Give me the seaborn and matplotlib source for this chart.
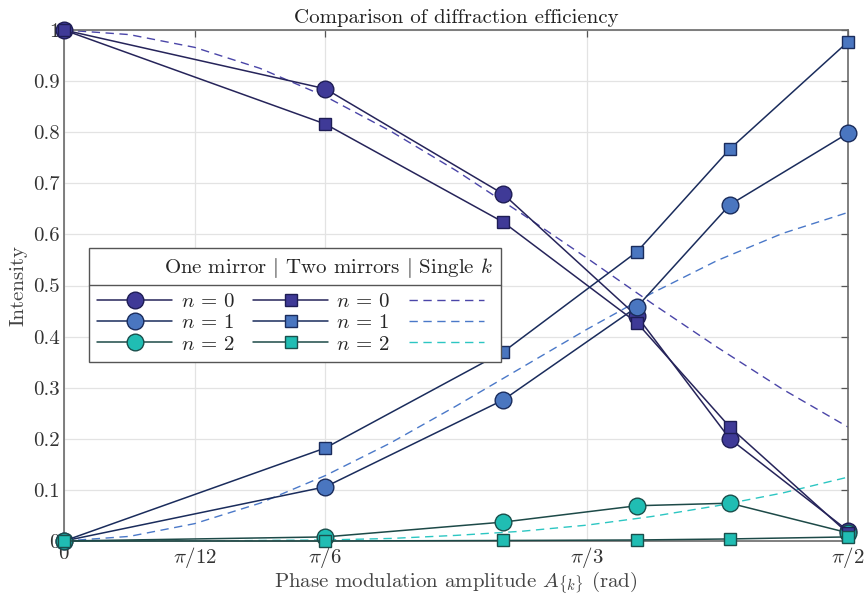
import numpy as np
import pandas as pd
import matplotlib
matplotlib.use("Agg")
import matplotlib.pyplot as plt
import seaborn as sns
from matplotlib.lines import Line2D

# ---------------- data ----------------
A_points = [0.0, 0.5236, 0.880, 1.148, 1.334, 1.5708]
one_n0 = [1.0, 0.885, 0.679, 0.440, 0.200, 0.020]
one_n1 = [0.0, 0.106, 0.276, 0.458, 0.658, 0.798]
one_n2 = [0.0, 0.008, 0.037, 0.069, 0.074, 0.016]
two_n0 = [1.0, 0.816, 0.624, 0.427, 0.223, 0.015]
two_n1 = [0.0, 0.182, 0.370, 0.566, 0.767, 0.977]
two_n2 = [0.0, 0.000, 0.001, 0.002, 0.004, 0.008]

A_curve = [0.0, 0.1309, 0.2618, 0.3927, 0.5236, 0.6545, 0.7854, 0.9163,
           1.0472, 1.1781, 1.3090, 1.4399, 1.5708]
single_n0 = [1.000, 0.991, 0.966, 0.925, 0.870, 0.802, 0.725, 0.641,
             0.554, 0.465, 0.379, 0.297, 0.223]
single_n1 = [0.000, 0.009, 0.034, 0.074, 0.128, 0.192, 0.264, 0.339,
             0.414, 0.485, 0.549, 0.602, 0.643]
single_n2 = [0.000, 0.000, 0.000, 0.001, 0.002, 0.005, 0.011, 0.019,
             0.031, 0.048, 0.069, 0.094, 0.125]

xtick_vals = [0, np.pi / 12, np.pi / 6, np.pi / 3, np.pi / 2]
xtick_labels = ["$0$", r"$\pi/12$", r"$\pi/6$", r"$\pi/3$", r"$\pi/2$"]
ytick_vals = [0, 0.1, 0.2, 0.3, 0.4, 0.5, 0.6, 0.7, 0.8, 0.9, 1]
ytick_labels = ["0", "0.1", "0.2", "0.3", "0.4", "0.5", "0.6", "0.7", "0.8", "0.9", "1"]

# ---------------- style ----------------
sns.set_theme(style="white")
plt.rcParams["font.family"] = ["cmr10", "DejaVu Serif"]
plt.rcParams["mathtext.fontset"] = "cm"
plt.rcParams["axes.formatter.use_mathtext"] = True
plt.rcParams["axes.unicode_minus"] = False

fills = ["#3f3a97", "#4a76c0", "#20bdb3"]
edges = ["#1e1d55", "#1a2c5c", "#1a4f4c"]
lines_c = ["#26245a", "#1a2c5c", "#1d4a48"]
dash_c = ["#4a45a8", "#4a78c8", "#2cc6c2"]

FS = 15

fig = plt.figure(figsize=(8.67, 5.98), dpi=100)
ax = fig.add_axes([64 / 867, 1 - 541 / 598, (848 - 64) / 867, (541 - 30) / 598])

# dashed single-k curves
dash_handles = []
for vals, c in zip([single_n0, single_n1, single_n2], dash_c):
    sns.lineplot(x=A_curve, y=vals, ax=ax, color=c, linewidth=1.0,
                 linestyle=(0, (6, 4)), errorbar=None, sort=False, zorder=2)
    dash_handles.append(ax.lines[-1])

circ_handles = []
for vals, i in zip([one_n0, one_n1, one_n2], range(3)):
    sns.lineplot(x=A_points, y=vals, ax=ax, color=lines_c[i], linewidth=1.1,
                 marker="o", markersize=12, markerfacecolor=fills[i],
                 markeredgecolor=edges[i], markeredgewidth=1.0,
                 errorbar=None, sort=False, zorder=3, clip_on=False)
    circ_handles.append(ax.lines[-1])

sq_handles = []
for vals, i in zip([two_n0, two_n1, two_n2], range(3)):
    sns.lineplot(x=A_points, y=vals, ax=ax, color=lines_c[i], linewidth=1.1,
                 marker="s", markersize=9, markerfacecolor=fills[i],
                 markeredgecolor=edges[i], markeredgewidth=1.0,
                 errorbar=None, sort=False, zorder=4, clip_on=False)
    sq_handles.append(ax.lines[-1])

ax.set_xlim(0, np.pi / 2)
ax.set_ylim(0, 1)
ax.set_xticks(xtick_vals)
ax.set_xticklabels(xtick_labels)
ax.set_yticks(ytick_vals)
ax.set_yticklabels(ytick_labels)
ax.grid(True, color="#e3e3e3", linewidth=0.9)
ax.set_axisbelow(True)
for s in ax.spines.values():
    s.set_color("#6a6a6a")
    s.set_linewidth(1.2)
ax.tick_params(axis="both", direction="in", length=5, width=0.9, color="#555555",
               top=True, right=True, labelsize=FS, labelcolor="#333333", pad=3)
ax.tick_params(axis="y", pad=3)

ax.set_title("Comparison of diffraction efficiency", fontsize=FS, color="#222222", pad=5)
ax.set_xlabel(r"Phase modulation amplitude $A_{\{k\}}$ (rad)", fontsize=FS,
              color="#444444", labelpad=-1)
ax.set_ylabel("Intensity", fontsize=FS, color="#444444", labelpad=4)

handles = circ_handles + sq_handles + dash_handles
labels = ["$n\\,=\\,0$", "$n\\,=\\,1$", "$n\\,=\\,2$"] * 2 + ["", "", ""]
leg = ax.legend(handles, labels, ncol=3, loc="upper left",
                bbox_to_anchor=((89 - 64) / 784, (541 - 248) / 511),
                borderaxespad=0, title=r"One mirror $|$ Two mirrors $|$ Single $k$",
                fontsize=FS, title_fontsize=FS, handlelength=3.6,
                handletextpad=0.4, columnspacing=0.9, labelspacing=0.12,
                frameon=True, fancybox=False, framealpha=1, edgecolor="#555555",
                borderpad=0.4)
leg.get_frame().set_linewidth(1.0)
leg._legend_box.align = "right"
leg._legend_box.sep = 9
leg.set_zorder(10)

fig.canvas.draw()
fb = leg.get_frame().get_window_extent()
tb = leg.get_title().get_window_extent()
ysep = tb.y0 - 5
W, H = fig.get_size_inches() * fig.dpi
sep = Line2D([fb.x0 / W, fb.x1 / W], [ysep / H, ysep / H], transform=fig.transFigure,
             color="#555555", linewidth=1.0, zorder=11)
fig.add_artist(sep)

fig.savefig("out.png", dpi=100)
